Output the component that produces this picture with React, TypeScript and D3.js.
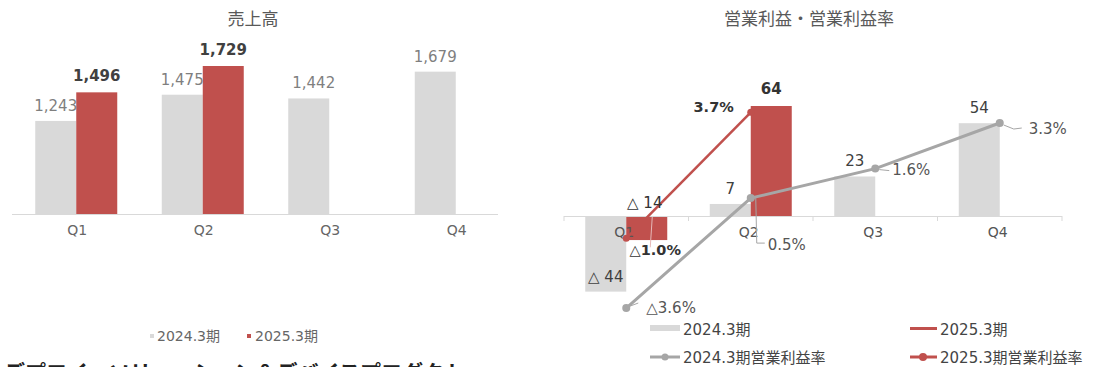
import React from "react";
import * as d3 from "d3";

const quarters = ["Q1", "Q2", "Q3", "Q4"];
const sales2024 = [1243, 1475, 1442, 1679];
const sales2025: (number | null)[] = [1496, 1729, null, null];
const op2024 = [-44, 7, 23, 54];
const op2025: (number | null)[] = [-14, 64, null, null];
const rate2024 = [-3.6, 0.5, 1.6, 3.3];
const rate2025: (number | null)[] = [-1.0, 3.7, null, null];
const seriesNames = ["2024.3期", "2025.3期"];
const rateNames = ["2024.3期営業利益率", "2025.3期営業利益率"];
const titles = ["売上高", "営業利益・営業利益率"];
const footerText = "デプロイ・ソリューション＆デバイスプロダクト";

const FONT = "'DejaVu Sans', 'Noto Sans CJK JP', sans-serif";
const CJK = "'Noto Sans CJK JP', sans-serif";
const GRAY = "#D9D9D9";
const RED = "#C0504D";
const GRAYLINE = "#A6A6A6";

const fmtNum = d3.format(",");
const fmtOp = (v: number) => (v < 0 ? `△ ${Math.abs(v)}` : `${v}`);
const fmtPct = (v: number) => (v < 0 ? `△${Math.abs(v).toFixed(1)}%` : `${v.toFixed(1)}%`);

export default function App() {
  React.useEffect(() => {
    document.body.style.margin = "0";
  }, []);

  // Left chart scales
  const xL = d3.scaleBand<string>().domain(quarters).range([13, 519]);
  const yL = d3.scaleLinear().domain([420, 1729]).range([214, 66]);
  const bwL = 41;
  const cL = (q: string) => (xL(q) as number) + xL.bandwidth() / 2;

  // Right chart scales
  const xR = d3.scaleBand<string>().domain(quarters).range([564, 1062]);
  const yR = d3.scaleLinear().domain([0, 64]).range([216, 106]);
  const yP = d3.scaleLinear().domain([0, 3.7]).range([211.5, 112.3]);
  const bwR = 41;
  const cR = (q: string) => (xR(q) as number) + xR.bandwidth() / 2;

  const line = d3
    .line<[number, number]>()
    .x((d) => d[0])
    .y((d) => d[1]);

  const pts2024: [number, number][] = rate2024.map((v, i) => [cR(quarters[i]), yP(v)]);
  const pts2025: [number, number][] = rate2025
    .map((v, i) => (v == null ? null : ([cR(quarters[i]), yP(v)] as [number, number])))
    .filter((d): d is [number, number] => d != null);

  const rateLabel2024 = [
    { dx: 20, dy: 5, leader: [[4, -2], [12, -5]] },
    { dx: 17, dy: 52, leader: [[5, 0], [6, 45], [14, 45]] },
    { dx: 17, dy: 6, leader: [[4, 1], [14, 2]] },
    { dx: 29, dy: 11, leader: [[4, 2], [14, 6], [22, 5]] },
  ];

  return (
    <svg
      width={1096}
      height={367}
      style={{ display: "block", background: "#fff", overflow: "hidden" }}
      fontFamily={FONT}
    >
      {/* ---------- Left chart ---------- */}
      <text x={253} y={25} textAnchor="middle" fontSize={17} fill="#595959" fontFamily={CJK}>
        {titles[0]}
      </text>
      {quarters.map((q, i) => (
        <rect
          key={"g" + q}
          x={cL(q) - bwL}
          y={yL(sales2024[i])}
          width={bwL}
          height={yL(420) - yL(sales2024[i])}
          fill={GRAY}
        />
      ))}
      {quarters.map((q, i) =>
        sales2025[i] == null ? null : (
          <rect
            key={"r" + q}
            x={cL(q)}
            y={yL(sales2025[i] as number)}
            width={bwL}
            height={yL(420) - yL(sales2025[i] as number)}
            fill={RED}
          />
        )
      )}
      <line x1={12} x2={498} y1={214.5} y2={214.5} stroke="#D9D9D9" strokeWidth={1} />
      {quarters.map((q, i) => (
        <text
          key={"gl" + q}
          x={cL(q) - bwL / 2 + (i === 2 ? 5 : 0)}
          y={yL(sales2024[i]) - 10}
          textAnchor="middle"
          fontSize={15}
          fill="#7F7F7F"
        >
          {fmtNum(sales2024[i])}
        </text>
      ))}
      {quarters.map((q, i) =>
        sales2025[i] == null ? null : (
          <text
            key={"rl" + q}
            x={cL(q) + bwL / 2}
            y={yL(sales2025[i] as number) - 11}
            textAnchor="middle"
            fontSize={15}
            fontWeight="bold"
            fill="#404040"
          >
            {fmtNum(sales2025[i] as number)}
          </text>
        )
      )}
      {quarters.map((q) => (
        <text key={"ql" + q} x={cL(q) + 1} y={235} textAnchor="middle" fontSize={14} fill="#666">
          {q}
        </text>
      ))}
      {/* left legend */}
      <rect x={150} y={334} width={4} height={4} fill={GRAY} />
      <text x={157} y={341} fontSize={14} fill="#666">
        {seriesNames[0]}
      </text>
      <rect x={247} y={334} width={4} height={4} fill={RED} />
      <text x={255} y={341} fontSize={14} fill="#666">
        {seriesNames[1]}
      </text>
      <text x={4} y={380} fontSize={21} fontWeight="bold" fill="#222" fontFamily={CJK}>
        {footerText}
      </text>

      {/* ---------- Right chart ---------- */}
      <text x={809} y={25} textAnchor="middle" fontSize={17} fill="#595959" fontFamily={CJK}>
        {titles[1]}
      </text>
      {quarters.map((q, i) => {
        const v = op2024[i];
        return (
          <rect
            key={"og" + q}
            x={cR(q) - bwR}
            y={Math.min(yR(v), yR(0))}
            width={bwR}
            height={Math.abs(yR(v) - yR(0))}
            fill={GRAY}
          />
        );
      })}
      {quarters.map((q, i) => {
        const v = op2025[i];
        if (v == null) return null;
        return (
          <rect
            key={"or" + q}
            x={cR(q)}
            y={Math.min(yR(v), yR(0))}
            width={bwR}
            height={Math.abs(yR(v) - yR(0))}
            fill={RED}
          />
        );
      })}
      <line x1={564} x2={1062} y1={216.5} y2={216.5} stroke="#D9D9D9" strokeWidth={1} />
      {[0, 1, 2, 3, 4].map((k) => {
        const x = 564 + xR.step() * k;
        return <line key={"t" + k} x1={x} x2={x} y1={216} y2={221} stroke="#D9D9D9" />;
      })}
      {quarters.map((q) => (
        <text key={"qr" + q} x={cR(q) - 2} y={237} textAnchor="middle" fontSize={14} fill="#555">
          {q}
        </text>
      ))}
      {/* lines */}
      <path d={line(pts2024) || ""} fill="none" stroke={GRAYLINE} strokeWidth={3} />
      {pts2024.map((p, i) => (
        <circle key={"p4" + i} cx={p[0]} cy={p[1]} r={4} fill={GRAYLINE} />
      ))}
      <path d={line(pts2025) || ""} fill="none" stroke={RED} strokeWidth={2.5} />
      {pts2025.map((p, i) => (
        <circle key={"p5" + i} cx={p[0]} cy={p[1]} r={3.5} fill={RED} />
      ))}
      {/* bar labels */}
      {quarters.map((q, i) => {
        const v = op2024[i];
        const y = yR(v) - 10;
        return (
          <text
            key={"ogl" + q}
            x={cR(q) - bwR / 2}
            y={y}
            textAnchor="middle"
            fontSize={15}
            fill="#404040"
          >
            {fmtOp(v)}
          </text>
        );
      })}
      {quarters.map((q, i) => {
        const v = op2025[i];
        if (v == null) return null;
        const y = v < 0 ? yR(0) - 8 : yR(v) - 12;
        return (
          <text
            key={"orl" + q}
            x={cR(q) + bwR / 2 + (v < 0 ? -2 : 0)}
            y={y}
            textAnchor="middle"
            fontSize={15}
            fontWeight={v < 0 ? "normal" : "bold"}
            fill="#333"
          >
            {fmtOp(v)}
          </text>
        );
      })}
      {/* rate labels 2024 */}
      {pts2024.map((p, i) => {
        const L = rateLabel2024[i];
        const d = line(L.leader.map(([a, b]) => [p[0] + a, p[1] + b] as [number, number])) || "";
        return (
          <g key={"rl4" + i}>
            <path d={d} fill="none" stroke="#A6A6A6" strokeWidth={1} />
            <text x={p[0] + L.dx} y={p[1] + L.dy} fontSize={15} fill="#555">
              {fmtPct(rate2024[i])}
            </text>
          </g>
        );
      })}
      {/* rate labels 2025 */}
      {pts2025.map((p, i) => {
        const v = rate2025[i] as number;
        if (v < 0) {
          return (
            <g key={"rl5" + i}>
              <line x1={p[0] + 26} y1={yR(0) + 1} x2={p[0] + 24} y2={p[1] + 9} stroke="#E6B9B8" strokeWidth={1} />
              <text x={p[0] + 29} y={p[1] + 17} textAnchor="middle" fontSize={14.5} fontWeight="bold" fill="#333">
                {fmtPct(v)}
              </text>
            </g>
          );
        }
        return (
          <text key={"rl5" + i} x={p[0] - 17} y={p[1]} textAnchor="end" fontSize={14.5} fontWeight="bold" fill="#333">
            {fmtPct(v)}
          </text>
        );
      })}
      {/* right legend */}
      <rect x={650} y={325} width={30} height={6} fill={GRAY} />
      <text x={683} y={335} fontSize={15} fill="#444">
        {seriesNames[0]}
      </text>
      <line x1={910} x2={937} y1={328.5} y2={328.5} stroke={RED} strokeWidth={3} />
      <text x={940} y={335} fontSize={15} fill="#444">
        {seriesNames[1]}
      </text>
      <line x1={650} x2={680} y1={357} y2={357} stroke={GRAYLINE} strokeWidth={3} />
      <circle cx={665} cy={357} r={3.5} fill={GRAYLINE} />
      <text x={683} y={363} fontSize={15} fill="#444">
        {rateNames[0]}
      </text>
      <line x1={910} x2={937} y1={357} y2={357} stroke={RED} strokeWidth={3} />
      <circle cx={923} cy={357} r={4} fill={RED} />
      <text x={940} y={363} fontSize={15} fill="#444">
        {rateNames[1]}
      </text>
    </svg>
  );
}
